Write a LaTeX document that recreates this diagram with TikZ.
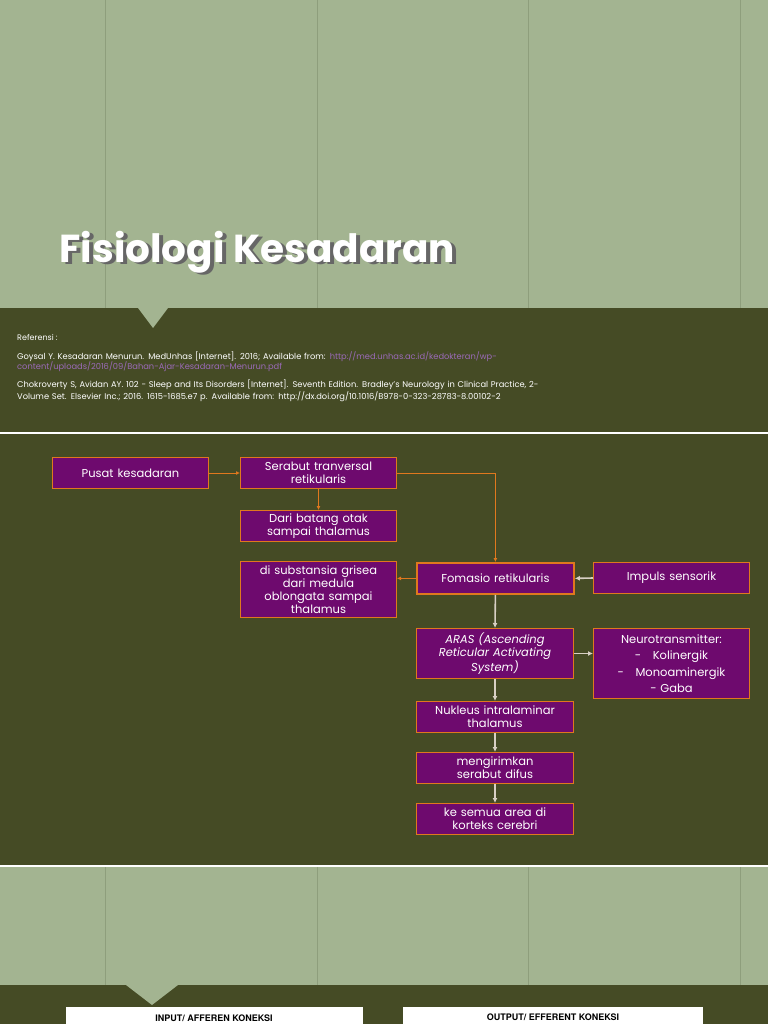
\documentclass[tikz,border=0pt]{standalone}
\usepackage{fontspec}
\setmainfont{Poppins}
\newfontfamily\heros{TeX Gyre Heros}
\usetikzlibrary{arrows.meta}
\definecolor{sage}{HTML}{A3B491}
\definecolor{sageline}{HTML}{8E9E7C}
\definecolor{dark}{HTML}{454B25}
\definecolor{purp}{HTML}{6E0A6E}
\definecolor{orng}{HTML}{E0781E}
\definecolor{arrg}{HTML}{D8D0C4}
\definecolor{linkc}{HTML}{9A6AB8}
\tikzset{
 box/.style={draw=orng,fill=purp,line width=1pt,text=white,font=\fontsize{11.5}{13}\selectfont,align=center,anchor=north west,inner sep=1pt},
 oarr/.style={draw=orng,line width=0.8pt,-{Latex[length=4pt,width=4pt]}},
 garr/.style={draw=arrg,line width=1.6pt,-{Latex[length=5pt,width=5pt]}},
}
\begin{document}
\begin{tikzpicture}[x=1pt,y=-1pt]
\useasboundingbox (0,0) rectangle (768,1024);
% top slide
\fill[sage] (0,0) rectangle (768,308);
\foreach \x in {105,317,528,740} \draw[sageline,line width=0.8pt] (\x,0) -- (\x,308);
\fill[dark] (0,308) rectangle (768,432);
\fill[sage] (138,308) -- (168,308) -- (153,328) -- cycle;
\node[anchor=west,text=black!60,font=\bfseries\fontsize{39}{42}\selectfont] at (60,254) {Fisiologi Kesadaran};
\node[anchor=west,text=white,font=\bfseries\fontsize{39}{42}\selectfont] (title) at (56,252) {Fisiologi Kesadaran};
\node[anchor=north west,text=white,font=\fontsize{8}{9}\selectfont,inner sep=0] (ref) at (17,334) {Referensi :};
\node[anchor=north west,text=white,font=\fontsize{8.3}{8.6}\selectfont,inner sep=0,text width=700pt] (r1) at (17,351)
 {Goysal Y. Kesadaran Menurun. MedUnhas [Internet]. 2016; Available from: \textcolor{linkc}{http://med.unhas.ac.id/kedokteran/wp-\\content/uploads/2016/09/Bahan-Ajar-Kesadaran-Menurun.pdf}};
\node[anchor=north west,text=white,font=\fontsize{8.3}{8.6}\selectfont,inner sep=0,text width=720pt] (r2) at (17,380)
 {Chokroverty S, Avidan AY. 102 - Sleep and Its Disorders [Internet]. Seventh Edition. Bradley's Neurology in Clinical Practice, 2-\\Volume Set. Elsevier Inc.; 2016. 1615-1685.e7 p. Available from: http://dx.doi.org/10.1016/B978-0-323-28783-8.00102-2};
\draw[white,line width=1pt] (0,433) -- (768,433);
% middle slide
\fill[dark] (0,434) rectangle (768,865);
\draw[white,line width=1pt] (0,866) -- (768,866);
\node[box,minimum width=156pt,minimum height=31pt,text width=154pt] (pusat) at (52,457) {Pusat kesadaran};
\node[box,minimum width=156pt,minimum height=31pt,text width=154pt] (serabut) at (240,457) {Serabut tranversal\\retikularis};
\node[box,minimum width=156pt,minimum height=31pt,text width=154pt] (dari) at (240,510) {Dari batang otak\\sampai thalamus};
\node[box,minimum width=156pt,minimum height=56pt,text width=154pt] (subs) at (240,561) {di substansia grisea\\dari medula\\oblongata sampai\\thalamus};
\node[box,line width=1.8pt,minimum width=157pt,minimum height=31pt,text width=154pt] (foma) at (416,562) {Fomasio retikularis};
\node[box,minimum width=156pt,minimum height=31pt,text width=154pt] (impuls) at (593,562) {Impuls sensorik};
\node[box,minimum width=157pt,minimum height=50pt,text width=154pt] (aras) at (416,628) {\itshape ARAS (Ascending\\\itshape Reticular Activating\\\itshape System)};
\node[box,minimum width=156pt,minimum height=70pt,text width=154pt,font=\fontsize{11.5}{16.5}\selectfont] (neuro) at (593,628) {Neurotransmitter:\\-\quad Kolinergik\\-\quad Monoaminergik\\- Gaba};
\node[box,minimum width=157pt,minimum height=31pt,text width=154pt] (nukleus) at (416,701) {Nukleus intralaminar\\thalamus};
\node[box,minimum width=157pt,minimum height=31pt,text width=154pt] (kirim) at (416,752) {mengirimkan\\serabut difus};
\node[box,minimum width=157pt,minimum height=31pt,text width=154pt] (semua) at (416,803) {ke semua area di\\korteks cerebri};
\draw[oarr] (pusat.east) -- (serabut.west);
\draw[oarr] (serabut.east) -| (foma.north);
\draw[oarr] (serabut.south) -- (dari.north);
\draw[oarr] (foma.west) -- (subs.east |- foma.west);
\draw[garr] (impuls.west) -- (foma.east);
\draw[garr] (foma.south) -- (aras.north);
\draw[garr] (aras.east) -- (neuro.west |- aras.east);
\draw[garr] (aras.south) -- (nukleus.north);
\draw[garr] (nukleus.south) -- (kirim.north);
\draw[garr] (kirim.south) -- (semua.north);
% bottom slide
\fill[sage] (0,867) rectangle (768,985);
\foreach \x in {105,317,528,740} \draw[sageline,line width=0.8pt] (\x,867) -- (\x,985);
\fill[dark] (0,985) rectangle (768,1024);
\fill[sage] (126,985) -- (178,985) -- (152,1005) -- cycle;
\fill[white] (66,1007) rectangle (363,1024);
\fill[white] (403,1007) rectangle (703,1024);
\node[font=\heros\bfseries\fontsize{9}{10}\selectfont,anchor=north] (inp) at (214,1011) {INPUT/ AFFEREN KONEKSI};
\node[font=\heros\bfseries\fontsize{9}{10}\selectfont,anchor=north] (outp) at (553,1010) {OUTPUT/ EFFERENT KONEKSI};
\end{tikzpicture}
\end{document}
